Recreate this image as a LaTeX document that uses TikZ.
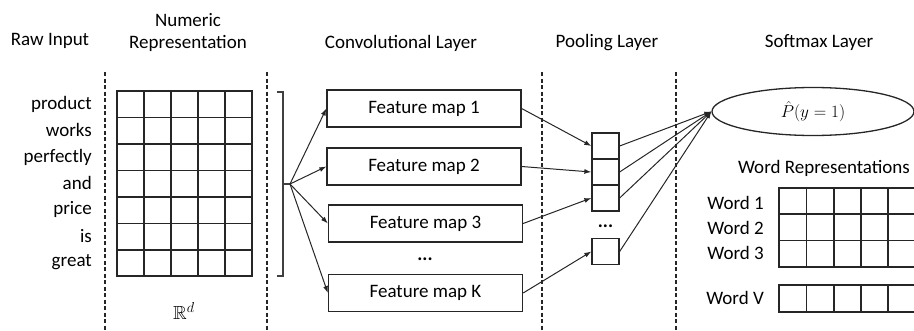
\documentclass[tikz,border=0pt]{standalone}
\usepackage{amssymb}
\usepackage{fontspec}
\setmainfont{Carlito}
\usetikzlibrary{arrows.meta,shapes.geometric}
\begin{document}
\begin{tikzpicture}[x=1pt,y=-1pt,
  txt/.style={font=\fontsize{19}{22}\selectfont, inner sep=0pt},
  fmbox/.style={draw=black!85, line width=1.3pt, minimum width=194pt, minimum height=37pt, inner sep=0pt, font=\fontsize{19}{22}\selectfont},
  cell/.style={draw=black!85, line width=1.3pt, minimum width=27pt, minimum height=26pt, inner sep=0pt},
  sep/.style={draw=black!85, line width=1.2pt, dash pattern=on 4pt off 2.5pt},
  gridline/.style={draw=black!85, line width=1.3pt},
  arr/.style={draw=black!85, line width=1pt, -{Latex[length=7pt,width=5pt]}},
  wlab/.style={font=\fontsize{19}{22}\selectfont, inner sep=0pt, anchor=east}
]
\useasboundingbox (0,0) rectangle (914,330);
\clip (0,0) rectangle (914,330);

% headings
\node[txt] (hraw) at (50,41) {Raw Input};
\node[txt] (hnum1) at (188,20) {Numeric};
\node[txt] (hnum2) at (188,43) {Representation};
\node[txt] (hconv) at (401,43) {Convolutional Layer};
\node[txt] (hpool) at (607,43) {Pooling Layer};
\node[txt] (hsoft) at (819,43) {Softmax Layer};

% separators
\coordinate (s1t) at (105,72); \coordinate (s1b) at (105,330);
\coordinate (s2t) at (267,72); \coordinate (s2b) at (267,330);
\coordinate (s3t) at (542,72); \coordinate (s3b) at (542,330);
\coordinate (s4t) at (676,72); \coordinate (s4b) at (676,330);
\draw[sep] (s1t) -- (s1b);
\draw[sep] (s2t) -- (s2b);
\draw[sep] (s3t) -- (s3b);
\draw[sep] (s4t) -- (s4b);

% raw input words
\node[wlab] (w1) at (92,104) {product};
\node[wlab] (w2) at (92,130) {works};
\node[wlab] (w3) at (92,157) {perfectly};
\node[wlab] (w4) at (92,183) {and};
\node[wlab] (w5) at (92,209) {price};
\node[wlab] (w6) at (92,236) {is};
\node[wlab] (w7) at (92,262) {great};

% numeric grid
\draw[gridline] (117,91) rectangle (252,276);
\foreach \x in {144,171,198,225} \draw[gridline] (\x,91) -- (\x,276);
\foreach \y in {117.5,144,170.5,197,223.5,250} \draw[gridline] (117,\y) -- (252,\y);
\node[font=\fontsize{19}{22}\selectfont, inner sep=0pt] (rd) at (184,311) {$\mathbb{R}^{d}$};

% bracket
\draw[draw=black!75, line width=1.2pt] (277,92) -- (283,92) -- (283,276) -- (277,276);
\coordinate (fan) at (290,184);
\draw[draw=black!75, line width=1.2pt] (283,184) -- (fan);

% feature maps
\node[fmbox] (fm1) at (424,108.5) {Feature map 1};
\node[fmbox] (fm2) at (424,166.5) {Feature map 2};
\node[fmbox] (fm3) at (425.5,223.5) {Feature map 3};
\node[txt] (fdots) at (425,259) {\textbf{...}};
\node[fmbox] (fmk) at (425.5,293) {Feature map K};

\draw[arr] (fan) -- (fm1.west);
\draw[arr] (fan) -- (fm2.west);
\draw[arr] (fan) -- (fm3.west);
\draw[arr] (fan) -- (fmk.west);

% pooling cells
\node[cell] (p1) at (605.5,146) {};
\node[cell] (p2) at (605.5,172) {};
\node[cell] (p3) at (605.5,198) {};
\node[txt] (pdots) at (605.5,226) {\textbf{...}};
\node[cell] (p4) at (605.5,251.5) {};

\draw[arr] (fm1.east) -- (p1.west);
\draw[arr] (fm2.east) -- (p2.west);
\draw[arr] (fm3.east) -- (p3.west);
\draw[arr] (fmk.east) -- (p4.west);

% softmax ellipse
\node[draw=black!85, line width=1.3pt, ellipse, minimum width=202pt, minimum height=48pt, inner sep=0pt, font=\fontsize{19}{22}\selectfont] (soft) at (813,111.5) {$\hat{P}(y=1)$};

\draw[arr] (p1.east) -- (soft.west);
\draw[arr] (p2.east) -- (soft.west);
\draw[arr] (p3.east) -- (soft.west);
\draw[arr] (p4.east) -- (soft.west);

% word representations
\node[txt] (hwr) at (824,168) {Word Representations};
\node[wlab] (wd1) at (764,203) {Word 1};
\node[wlab] (wd2) at (764,228) {Word 2};
\node[wlab] (wd3) at (764,253) {Word 3};
\node[wlab] (wdv) at (764,298) {Word V};

\draw[gridline] (779,188) rectangle (915,267);
\foreach \x in {806.5,834,861,888} \draw[gridline] (\x,188) -- (\x,267);
\foreach \y in {214,240.5} \draw[gridline] (779,\y) -- (915,\y);

\draw[gridline] (779,285) rectangle (915,312);
\foreach \x in {806.5,834,861,888} \draw[gridline] (\x,285) -- (\x,312);
\end{tikzpicture}
\end{document}
